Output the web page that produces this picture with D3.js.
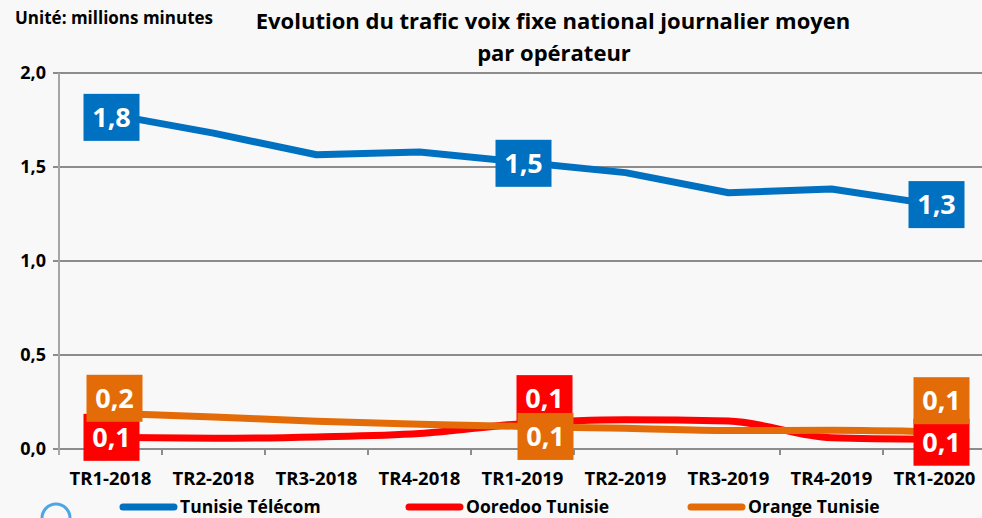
<!DOCTYPE html>
<html>
<head>
<meta charset="utf-8">
<script src="https://cdn.jsdelivr.net/npm/d3@7"></script>
<style>
  html, body { margin: 0; padding: 0; background: #f8f8f8; }
  svg { display: block; font-family: "Open Sans", sans-serif; }
</style>
</head>
<body>
<div id="chart"></div>
<script>
// Data
const categories = ["TR1-2018", "TR2-2018", "TR3-2018", "TR4-2018", "TR1-2019", "TR2-2019", "TR3-2019", "TR4-2019", "TR1-2020"];
const tunisieTelecom = [1.78, 1.68, 1.565, 1.58, 1.525, 1.47, 1.363, 1.383, 1.30];
const ooredooTunisie = [0.062, 0.057, 0.064, 0.082, 0.135, 0.156, 0.149, 0.06, 0.052];
const orangeTunisie = [0.19, 0.17, 0.148, 0.132, 0.12, 0.11, 0.098, 0.10, 0.092];
const yTicks = [0, 0.5, 1, 1.5, 2];
const labelIndexes = [0, 4, 8];

const W = 982, H = 518;
const margin = { left: 59, top: 73, bottom: 449 };
const step = 103;

const series = [
  { name: "Tunisie Télécom", values: tunisieTelecom, color: "#0070c0", curve: d3.curveLinear,
    // label box offset from its point
    offsets: [[1, 3], [1, 1], [2, 0]] },
  { name: "Ooredoo Tunisie", values: ooredooTunisie, color: "#ff0000", curve: d3.curveMonotoneX,
    offsets: [[1, 0], [22, -25], [7, 3]] },
  { name: "Orange Tunisie", values: orangeTunisie, color: "#e36c09", curve: d3.curveMonotoneX,
    offsets: [[4, -15], [23, 10], [7, -31]] },
];

const fmt = (v) => d3.format(".1f")(v).replace(".", ",");

const svg = d3.select("#chart").append("svg")
  .attr("width", W)
  .attr("height", H);

svg.append("rect").attr("width", W).attr("height", H).attr("fill", "#f8f8f8");

const x = d3.scaleBand()
  .domain(categories)
  .range([margin.left, margin.left + step * categories.length]);
const cx = (c) => x(c) + x.bandwidth() / 2;

const y = d3.scaleLinear().domain([0, 2]).range([margin.bottom, margin.top]);

// Gridlines
svg.append("g")
  .selectAll("line")
  .data(yTicks)
  .join("line")
  .attr("x1", margin.left - 6)
  .attr("x2", W)
  .attr("y1", (d) => y(d))
  .attr("y2", (d) => y(d))
  .attr("stroke", "#8c8c8c")
  .attr("stroke-width", 2);

// Y axis line
svg.append("line")
  .attr("x1", margin.left).attr("x2", margin.left)
  .attr("y1", y(2)).attr("y2", y(0) + 6)
  .attr("stroke", "#a6a6a6")
  .attr("stroke-width", 2);

// Y tick labels
svg.append("g")
  .selectAll("text")
  .data(yTicks)
  .join("text")
  .attr("x", 46)
  .attr("y", (d) => y(d) + 6)
  .attr("text-anchor", "end")
  .attr("font-size", 18)
  .attr("font-weight", "bold")
  .attr("fill", "#000")
  .text(fmt);

// X ticks at category boundaries
svg.append("g")
  .selectAll("line")
  .data(categories.slice(1))
  .join("line")
  .attr("x1", (d) => x(d)).attr("x2", (d) => x(d))
  .attr("y1", y(0)).attr("y2", y(0) + 6)
  .attr("stroke", "#8c8c8c")
  .attr("stroke-width", 2);

svg.append("g")
  .selectAll("text")
  .data(categories)
  .join("text")
  .attr("x", (d) => cx(d))
  .attr("y", 485)
  .attr("text-anchor", "middle")
  .attr("font-size", 18.5)
  .attr("font-weight", "bold")
  .attr("fill", "#000")
  .text((d) => d);

// Lines
series.forEach((s) => {
  const line = d3.line()
    .x((d, i) => cx(categories[i]))
    .y((d) => y(d))
    .curve(s.curve);
  svg.append("path")
    .datum(s.values)
    .attr("d", line)
    .attr("fill", "none")
    .attr("stroke", s.color)
    .attr("stroke-width", 7)
    .attr("stroke-linejoin", "round");
});

// Data labels (boxes)
const boxW = 56, boxH = 47;
series.forEach((s) => {
  const g = svg.append("g").attr("class", "labels");
  labelIndexes.forEach((idx, k) => {
    const px = cx(categories[idx]) + s.offsets[k][0];
    const py = y(s.values[idx]) + s.offsets[k][1];
    g.append("rect")
      .attr("x", px - boxW / 2)
      .attr("y", py - boxH / 2)
      .attr("width", boxW)
      .attr("height", boxH)
      .attr("fill", s.color);
    g.append("text")
      .attr("x", px)
      .attr("y", py + 9.5)
      .attr("text-anchor", "middle")
      .attr("font-size", 27)
      .attr("font-weight", "bold")
      .attr("fill", "#fff")
      .text(fmt(s.values[idx]));
  });
});

// Titles
svg.append("text")
  .attr("x", 15).attr("y", 24)
  .attr("font-size", 17)
  .attr("font-weight", "bold")
  .text("Unité: millions minutes");

svg.append("text")
  .attr("x", 553).attr("y", 29)
  .attr("text-anchor", "middle")
  .attr("font-size", 22)
  .attr("font-weight", "bold")
  .text("Evolution du trafic voix fixe national journalier moyen");

svg.append("text")
  .attr("x", 554).attr("y", 61)
  .attr("text-anchor", "middle")
  .attr("font-size", 22)
  .attr("font-weight", "bold")
  .text("par opérateur");

// Legend
const legendX = [120, 406, 688];
series.forEach((s, i) => {
  const lg = svg.append("g").attr("transform", `translate(${legendX[i]},507)`);
  lg.append("line")
    .attr("x1", 3).attr("x2", 54)
    .attr("y1", 0).attr("y2", 0)
    .attr("stroke", s.color)
    .attr("stroke-width", 7)
    .attr("stroke-linecap", "round");
  lg.append("text")
    .attr("x", 60).attr("y", 6)
    .attr("font-size", 17.5)
    .attr("font-weight", "bold")
    .text(s.name);
});

// decorative ring, bottom left
svg.append("circle")
  .attr("cx", 56).attr("cy", 518)
  .attr("r", 14)
  .attr("fill", "none")
  .attr("stroke", "#4ea5e6")
  .attr("stroke-width", 3);
</script>
</body>
</html>
